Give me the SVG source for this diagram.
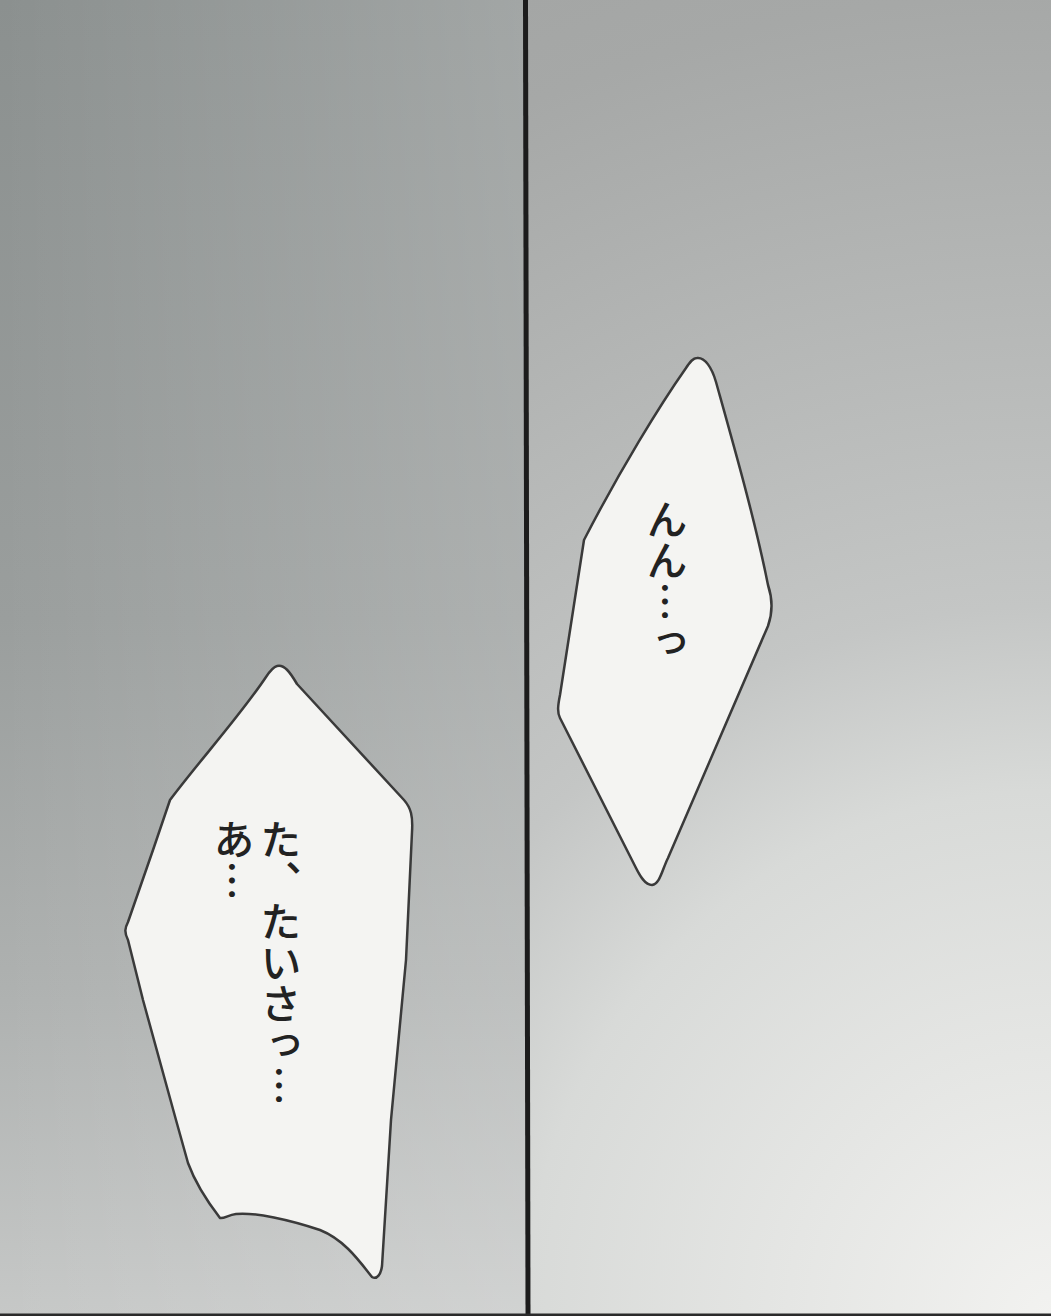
<svg xmlns="http://www.w3.org/2000/svg" width="1051" height="1316" viewBox="0 0 1051 1316">
<style>
.bubble{fill:#f4f4f2;stroke:#3a3a3a;stroke-width:2.5;stroke-linejoin:round}
.vt{font-family:"Noto Sans CJK JP","Noto Sans CJK SC",sans-serif;font-size:41px;font-weight:500;fill:#222;writing-mode:vertical-rl}
</style>
<defs>
<linearGradient id="lv" x1="0" y1="0" x2="0" y2="1316" gradientUnits="userSpaceOnUse">
<stop offset="0" stop-color="#8b908f"/>
<stop offset="0.47" stop-color="#9a9e9d"/>
<stop offset="0.75" stop-color="#aeb1b0"/>
<stop offset="1" stop-color="#c6c8c7"/>
</linearGradient>
<linearGradient id="lh" x1="0" y1="0" x2="525" y2="0" gradientUnits="userSpaceOnUse">
<stop offset="0" stop-color="#fff" stop-opacity="0"/>
<stop offset="1" stop-color="#fff" stop-opacity="0.2"/>
</linearGradient>
<radialGradient id="rg" cx="1051" cy="1316" r="1420" gradientUnits="userSpaceOnUse">
<stop offset="0" stop-color="#f2f2f0"/>
<stop offset="0.37" stop-color="#d8dad8"/>
<stop offset="0.5" stop-color="#c4c6c5"/>
<stop offset="0.93" stop-color="#a6a8a7"/>
<stop offset="1" stop-color="#a4a6a5"/>
</radialGradient>
</defs>
<g id="left-panel">
<rect x="0" y="0" width="527" height="1316" fill="url(#lv)"/>
<rect x="0" y="0" width="527" height="1316" fill="url(#lh)"/>
</g>
<g id="right-panel">
<rect x="525" y="0" width="526" height="1316" fill="url(#rg)"/>
</g>
<line id="divider" x1="525.5" y1="0" x2="528" y2="1316" stroke="#1c1c1c" stroke-width="5"/>
<rect id="bottom-edge" x="0" y="1313.5" width="1051" height="2.5" fill="#2a2a2a"/>
<g id="bubble-right">
<path class="bubble" d="M697,358 C705,357 712,368 716,382 C735,450 755,520 768,585 C773,600 773,612 768,626 L668,858 C662,870 660,884 652,885 C645,885 640,876 636,868 L560,718 C557,712 558,705 560,695 L584,540 C620,470 660,405 686,368 C690,362 693,358 697,358 Z"/>
<text class="vt" x="667" y="499">んん…っ</text>
</g>
<g id="bubble-left">
<path class="bubble" d="M277,666 C284,664 290,672 297,684 L404,800 C411,808 413,816 412,832 L406,960 L391,1120 L382,1266 C381,1274 377,1280 372,1277 C360,1262 345,1240 320,1230 C290,1220 255,1212 236,1214 C228,1215 224,1219 220,1218 C210,1205 196,1185 188,1163 L176,1120 L143,1000 L128,940 C124,932 125,928 128,922 L153,850 L170,800 C200,760 240,716 266,677 C270,671 273,667 277,666 Z"/>
<text class="vt" x="281" y="819">た、たいさっ…</text>
<text class="vt" x="234" y="819">あ…</text>
</g>
</svg>
